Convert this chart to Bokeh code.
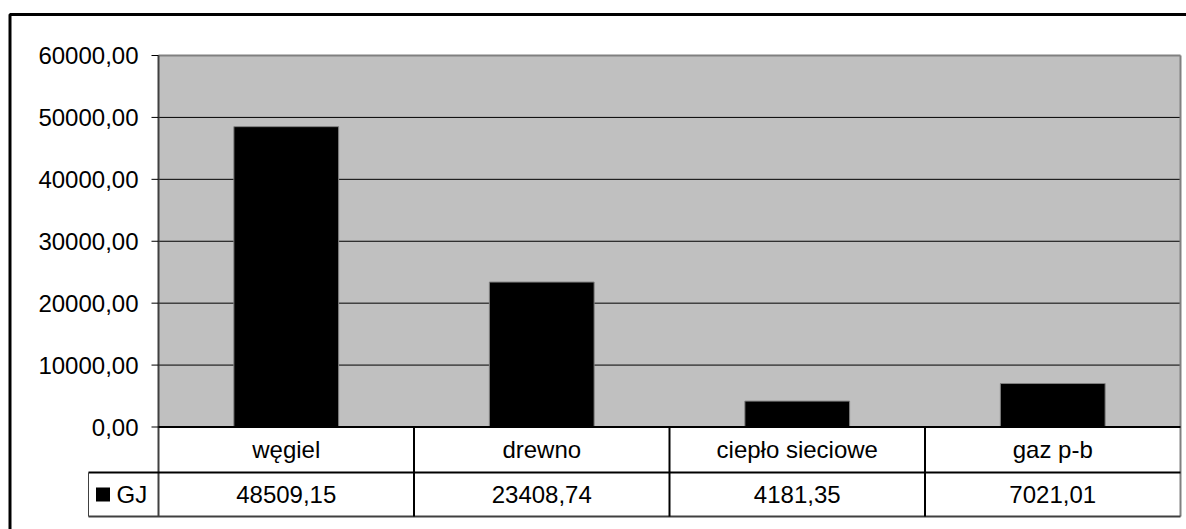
from bokeh.plotting import figure
from bokeh.models import Range1d, ColumnDataSource
from bokeh.core.properties import value
from bokeh.embed import file_html
from bokeh.resources import INLINE

# Energy use by carrier [GJ]
categories = ["węgiel", "drewno", "ciepło sieciowe", "gaz p-b"]
gj_values = [48509.15, 23408.74, 4181.35, 7021.01]
series_name = "GJ"
y_ticks = [0, 10000, 20000, 30000, 40000, 50000, 60000]
y_tick_labels = ["0,00", "10000,00", "20000,00", "30000,00", "40000,00", "50000,00", "60000,00"]

W, H = 1186, 529
FONT = value("Liberation Sans")
FS = "24px"

# Pixel layout of the chart area and the data table underneath it
PLOT_LEFT, PLOT_RIGHT = 158.0, 1180.0
PLOT_TOP, PLOT_ZERO = 55.0, 426.5
ROW1_BOTTOM, ROW2_BOTTOM = 472.0, 516.0
LEGEND_LEFT = 88.0
Y_MAX = 60000.0

n = len(categories)
px_per_cat = (PLOT_RIGHT - PLOT_LEFT) / n
px_per_val = (PLOT_ZERO - PLOT_TOP) / Y_MAX


def ux(px):
    """Screen x (pixels) -> category units."""
    return (px - PLOT_LEFT) / px_per_cat


def vy(py):
    """Screen y (pixels from top) -> value units."""
    return (PLOT_ZERO - py) / px_per_val


p = figure(
    width=W, height=H,
    x_range=Range1d(ux(0), ux(W)),
    y_range=Range1d(vy(H), vy(0)),
    x_axis_location=None, y_axis_location=None,
    toolbar_location=None, output_backend="svg",
    min_border=0, outline_line_color=None,
    background_fill_color="white", border_fill_color="white",
)
p.grid.visible = False

centers = [i + 0.5 for i in range(n)]

# grey plotting area
p.quad(left=[0], right=[n], bottom=[0], top=[Y_MAX],
       fill_color="#C0C0C0", line_color=None)

# horizontal gridlines
grid_vals = [t for t in y_ticks if 0 < t < Y_MAX]
p.segment(x0=[0] * len(grid_vals), x1=[n] * len(grid_vals),
          y0=grid_vals, y1=grid_vals, line_color="#000000", line_width=1)

# plot area top / right border
p.segment(x0=[0], x1=[n], y0=[Y_MAX], y1=[Y_MAX], line_color="#808080", line_width=2)
p.segment(x0=[n], x1=[n], y0=[vy(ROW2_BOTTOM)], y1=[Y_MAX], line_color="#808080", line_width=2)

# bars
src = ColumnDataSource(dict(x=centers, top=gj_values, cat=categories))
p.vbar(x="x", top="top", bottom=0, width=0.41, source=src,
       fill_color="#000000", line_color="#808080", line_width=1)

# value axis: line, ticks and labels
p.segment(x0=[0], x1=[0], y0=[vy(ROW2_BOTTOM)], y1=[Y_MAX], line_color="#404040", line_width=2)
tick_len = 7 / px_per_cat
p.segment(x0=[-tick_len] * len(y_ticks), x1=[0] * len(y_ticks),
          y0=y_ticks, y1=y_ticks, line_color="#000000", line_width=1)
p.text(x=[ux(PLOT_LEFT - 20)] * len(y_ticks), y=y_ticks, text=y_tick_labels,
       text_align="right", text_baseline="middle",
       text_font=FONT, text_font_size=FS, text_color="#000000")

# data table lines
p.segment(x0=[0], x1=[n], y0=[0], y1=[0], line_color="#000000", line_width=2)
p.segment(x0=[ux(LEGEND_LEFT)] * 2, x1=[n] * 2,
          y0=[vy(ROW1_BOTTOM), vy(ROW2_BOTTOM)], y1=[vy(ROW1_BOTTOM), vy(ROW2_BOTTOM)],
          line_color=["#000000", "#404040"], line_width=[2, 2])
seps = list(range(1, n))
p.segment(x0=seps, x1=seps, y0=[0] * len(seps), y1=[vy(ROW2_BOTTOM)] * len(seps),
          line_color="#000000", line_width=2)
p.segment(x0=[ux(LEGEND_LEFT)], x1=[ux(LEGEND_LEFT)],
          y0=[vy(ROW1_BOTTOM)], y1=[vy(ROW2_BOTTOM)], line_color="#404040", line_width=1)

# category labels and values
row1_mid = vy((PLOT_ZERO + ROW1_BOTTOM) / 2)
row2_mid = vy((ROW1_BOTTOM + ROW2_BOTTOM) / 2)
p.text(x=centers, y=[row1_mid] * n, text=categories,
       text_align="center", text_baseline="middle",
       text_font=FONT, text_font_size=FS, text_color="#000000")
value_texts = [f"{v:.2f}".replace(".", ",") for v in gj_values]
p.text(x=centers, y=[row2_mid] * n, text=value_texts,
       text_align="center", text_baseline="middle",
       text_font=FONT, text_font_size=FS, text_color="#000000")

# legend key in the table
p.scatter(x=[ux(102.5)], y=[row2_mid], marker="square", size=14,
          fill_color="#000000", line_color=None)
p.text(x=[ux(116)], y=[row2_mid], text=[series_name],
       text_align="left", text_baseline="middle",
       text_font=FONT, text_font_size=FS, text_color="#000000")

# outer chart border
p.quad(left=[ux(9.5)], right=[ux(W + 20)], top=[vy(14)], bottom=[vy(H + 20)],
       fill_color=None, line_color="#000000", line_width=3)

open("out.html", "w").write(file_html(p, INLINE))
